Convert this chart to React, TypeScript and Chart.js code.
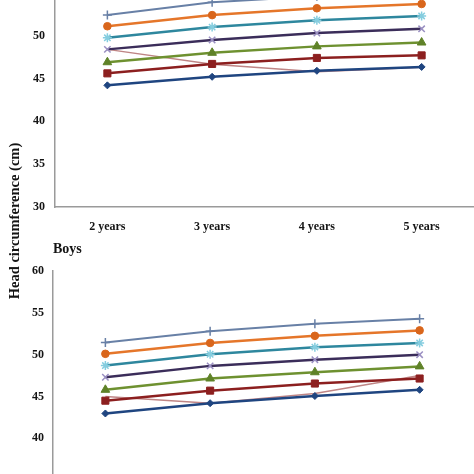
import React, { useEffect, useRef } from "react";
import { Chart, registerables } from "chart.js";

Chart.register(...registerables);

// ---------- data ----------
const categories = ["2 years", "3 years", "4 years", "5 years"];
const yMin = 30;
const yMax = 60;
const yStep = 5;

const seriesNames = ["P3", "P10", "P25", "P50", "P75", "P90", "P97", "Study"];

// upper panel (girls)
const girlsP3 = [44.2, 45.2, 45.9, 46.35];
const girlsP10 = [45.6, 46.7, 47.4, 47.7];
const girlsP25 = [46.9, 48.0, 48.75, 49.2];
const girlsP50 = [48.4, 49.5, 50.3, 50.8];
const girlsP75 = [49.75, 51.0, 51.8, 52.3];
const girlsP90 = [51.1, 52.4, 53.2, 53.7];
const girlsP97 = [52.4, 53.9, 54.6, 55.1];
const girlsStudy = [48.4, 46.65, 45.8, 46.3];

// lower panel (boys)
const boysP3 = [42.97, 44.2, 45.06, 45.8];
const boysP10 = [44.5, 45.7, 46.55, 47.15];
const boysP25 = [45.8, 47.15, 47.9, 48.6];
const boysP50 = [47.3, 48.66, 49.4, 50.0];
const boysP75 = [48.7, 50.05, 50.9, 51.4];
const boysP90 = [50.1, 51.4, 52.25, 52.9];
const boysP97 = [51.46, 52.8, 53.7, 54.3];
const boysStudy = [45.0, 44.2, 45.35, 47.5];

const girlsSeries = [girlsP3, girlsP10, girlsP25, girlsP50, girlsP75, girlsP90, girlsP97, girlsStudy];
const boysSeries = [boysP3, boysP10, boysP25, boysP50, boysP75, boysP90, boysP97, boysStudy];

// ---------- styles ----------
const seriesStyles = [
  { line: "#1f4580", point: "#1f4580", style: "rectRot", r: 3.5, w: 2.5, pw: 1 },
  { line: "#8c1f1f", point: "#8c1f1f", style: "rect", r: 5, w: 2.5, pw: 1 },
  { line: "#6e9130", point: "#5f8228", style: "triangle", r: 5, w: 2.5, pw: 1 },
  { line: "#3b2d5a", point: "#9a8fc2", style: "crossRot", r: 4.5, w: 2.5, pw: 1.5 },
  { line: "#2e879e", point: "#85cddf", style: "star", r: 4.5, w: 2.5, pw: 1.5 },
  { line: "#e5762a", point: "#d9661c", style: "circle", r: 3.8, w: 2.5, pw: 1 },
  { line: "#6880a6", point: "#6880a6", style: "cross", r: 4.5, w: 2, pw: 1.5 },
  { line: "#bf8585", point: "#bf8585", style: "line", r: 0, w: 1.5, pw: 0 },
];

const serif = "'Liberation Serif', 'Times New Roman', serif";
const axisColor = "#9a9a9a";
const textColor = "#141414";
const X_AXIS_H = 40;

type PanelProps = {
  series: number[][];
  left: number;
  top: number;
  width: number;
  plotHeight: number;
  axisWidth: number;
  yPad: number;
  xPad: number;
};

function Panel({ series, left, top, width, plotHeight, axisWidth, yPad, xPad }: PanelProps) {
  const ref = useRef<HTMLCanvasElement>(null);
  useEffect(() => {
    if (!ref.current) return;
    const datasets = series.map((vals, i) => {
      const s = seriesStyles[i];
      return {
        label: seriesNames[i],
        data: vals,
        borderColor: s.line,
        backgroundColor: s.point,
        borderWidth: s.w,
        pointStyle: s.style as any,
        pointRadius: s.r,
        pointBorderColor: s.point,
        pointBackgroundColor: s.point,
        pointBorderWidth: s.pw,
        tension: 0,
        fill: false,
      };
    });
    const chart = new Chart(ref.current, {
      type: "line",
      data: { labels: categories, datasets },
      options: {
        responsive: false,
        animation: false,
        layout: { padding: 0 },
        plugins: {
          legend: { display: false },
          tooltip: { enabled: false },
          title: { display: false },
        },
        scales: {
          x: {
            offset: true,
            grid: { display: false, drawTicks: false },
            border: { display: true, color: axisColor, width: 1.5 },
            ticks: {
              color: textColor,
              padding: xPad,
              maxRotation: 0,
              font: { family: serif, size: 12, weight: "bold" },
            },
            afterFit: (s: any) => {
              s.height = X_AXIS_H;
              s.paddingLeft = 0;
              s.paddingRight = 0;
            },
          },
          y: {
            min: yMin,
            max: yMax,
            grid: { display: false, drawTicks: false },
            border: { display: true, color: axisColor, width: 1.5 },
            ticks: {
              stepSize: yStep,
              color: textColor,
              padding: yPad,
              font: { family: serif, size: 12, weight: "bold" },
            },
            afterFit: (s: any) => {
              s.width = axisWidth;
              s.paddingTop = 0;
              s.paddingBottom = 0;
            },
          },
        },
      },
    });
    return () => chart.destroy();
  }, []);
  const h = plotHeight + X_AXIS_H;
  return (
    <canvas
      ref={ref}
      width={width}
      height={h}
      style={{ position: "absolute", left, top, width, height: h }}
    />
  );
}

export default function App() {
  return (
    <div
      style={{
        position: "absolute",
        left: 0,
        top: 0,
        width: 474,
        height: 474,
        overflow: "hidden",
        background: "#ffffff",
      }}
    >
      <Panel series={girlsSeries} left={0} top={-56.5} width={480} plotHeight={263.5} axisWidth={55} yPad={10} xPad={13} />
      <Panel series={boysSeries} left={0} top={264.5} width={478} plotHeight={257.5} axisWidth={53} yPad={9} xPad={13} />
      <div
        style={{
          position: "absolute",
          left: 53,
          top: 242,
          fontFamily: serif,
          fontWeight: "bold",
          fontSize: 14,
          lineHeight: "14px",
          color: textColor,
        }}
      >
        Boys
      </div>
      <div
        style={{
          position: "absolute",
          left: 13.5 - 90,
          top: 221 - 8,
          width: 180,
          height: 16,
          lineHeight: "16px",
          textAlign: "center",
          transform: "rotate(-90deg)",
          fontFamily: serif,
          fontWeight: "bold",
          fontSize: 14.5,
          color: textColor,
          whiteSpace: "nowrap",
        }}
      >
        Head circumference (cm)
      </div>
    </div>
  );
}
